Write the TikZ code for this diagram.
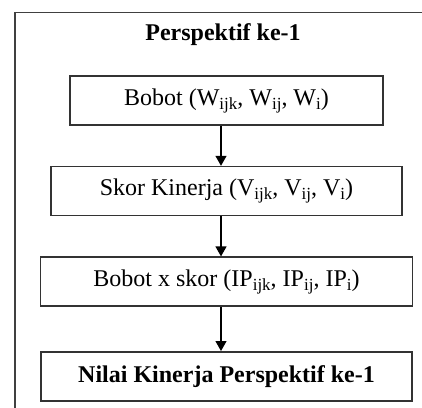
\documentclass[tikz,border=0pt]{standalone}
\usepackage{fontspec}
\setmainfont{Liberation Serif}
\usetikzlibrary{arrows.meta, positioning}

\newcommand{\subidx}[1]{\raisebox{-2pt}{\fontsize{8.5}{9}\selectfont #1}}

\begin{document}
\begin{tikzpicture}[
        >=Stealth,
        node distance=20pt,
        every node/.style={font=\fontsize{12}{14}\selectfont},
        box/.style={draw=black!80, line width=0.8pt, minimum height=24.5pt, align=center, inner sep=2pt},
        arr/.style={-{Triangle[width=5.5pt, length=5pt]}, line width=0.6pt},
    ]

    %% Canvas and outer frame
    \useasboundingbox (0,0) rectangle (211pt,-203.5pt);
    \clip (0,0) rectangle (211pt,-203.5pt);
    \draw[black!75, line width=0.8pt] (7.5pt,-6.25pt) rectangle (230pt,-230pt);

    %% Title
    \node[font=\fontsize{12}{14}\selectfont\bfseries] (title) at (111.5pt,-17.5pt) {Perspektif ke-1};

    %% Steps
    \node[box, minimum width=156.5pt] (bobot) at (113.25pt,-50.25pt) {Bobot (W\subidx{ijk}, W\subidx{ij}, W\subidx{i})};
    \node[box, minimum width=175.5pt, below=of bobot] (skor) {Skor Kinerja (V\subidx{ijk}, V\subidx{ij}, V\subidx{i})};
    \node[box, minimum width=186pt, below=of skor] (ip) {Bobot x skor (IP\subidx{ijk}, IP\subidx{ij}, IP\subidx{i})};
    \node[box, minimum width=185.5pt, below=22pt of ip, font=\fontsize{12}{14}\selectfont\bfseries] (nilai) {Nilai Kinerja Perspektif ke-1};

    %% Arrows
    \foreach \a/\b in {bobot/skor, skor/ip, ip/nilai} {
        \draw[arr] ([xshift=-2.75pt]\a.south) -- ([xshift=-2.75pt]\b.north);
    }

\end{tikzpicture}
\end{document}
